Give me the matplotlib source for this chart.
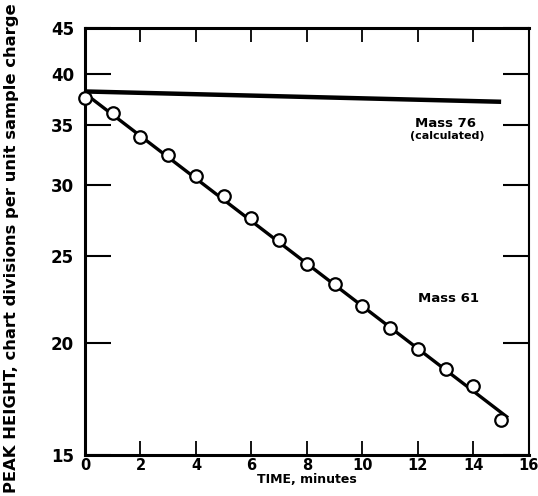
import numpy as np
import matplotlib
matplotlib.use("Agg")
from matplotlib import pyplot as plt
from matplotlib.ticker import FixedLocator, NullLocator

# measured points, mass 61
time = [0, 1, 2, 3, 4, 5, 6, 7, 8, 9, 10, 11, 12, 13, 14, 15]
mass61 = [37.6, 36.1, 34.0, 32.4, 30.7, 29.2, 27.6, 26.1, 24.5, 23.3,
          22.0, 20.8, 19.7, 18.7, 17.9, 16.4]

# fitted line through mass 61
fit_t = [0, 15.25]
fit_v = [38.0, 16.5]

# mass 76 (calculated)
m76_t = [0, 15.0]
m76_v = [38.2, 37.2]

xticks = [0, 2, 4, 6, 8, 10, 12, 14, 16]
yticks = [15, 20, 25, 30, 35, 40, 45]

plt.rcParams['font.family'] = ['DejaVu Sans']
plt.rcParams['font.weight'] = 'bold'

fig = plt.figure(figsize=(5.38, 4.96), dpi=100)
ax = fig.add_axes([0.158, 0.083, 0.825, 0.861])

ax.plot(m76_t, m76_v, color='black', linewidth=3.2, solid_capstyle='butt')
ax.plot(fit_t, fit_v, color='black', linewidth=2.4, solid_capstyle='butt')
ax.plot(time, mass61, linestyle='none', marker='o', markersize=9,
        markerfacecolor='white', markeredgecolor='black', markeredgewidth=1.6,
        clip_on=False, zorder=5)

ax.set_yscale('log')
ax.set_xlim(0, 16)
ax.set_ylim(15, 45)

ax.yaxis.set_major_locator(FixedLocator(yticks))
ax.yaxis.set_minor_locator(NullLocator())
ax.set_yticklabels([str(v) for v in yticks], fontsize=12, fontweight='bold')
ax.set_xticks(xticks)
ax.set_xticklabels([str(v) for v in xticks], fontsize=10.5, fontweight='bold')

ax.tick_params(axis='y', direction='in', length=19, width=1.5, pad=8,
               right=True, left=True)
ax.tick_params(axis='x', direction='in', length=10, width=1.3, pad=2,
               top=True, bottom=True)

for side in ['left', 'bottom', 'top']:
    ax.spines[side].set_linewidth(2.2)
ax.spines['right'].set_linewidth(1.5)

ax.text(11.9, 34.9, 'Mass 76', fontsize=9.5, fontweight='bold')
ax.text(11.7, 33.8, '(calculated)', fontsize=8, fontweight='bold')
ax.text(12.0, 22.2, 'Mass 61', fontsize=9.5, fontweight='bold')

ax.set_xlabel('TIME, minutes', fontsize=9, fontweight='bold', labelpad=0)
fig.text(0.008, 0.994, 'PEAK HEIGHT, chart divisions per unit sample charge',
         rotation=90, fontsize=11.8, fontweight='bold', va='top', ha='left')

fig.savefig('out.png', dpi=100)
